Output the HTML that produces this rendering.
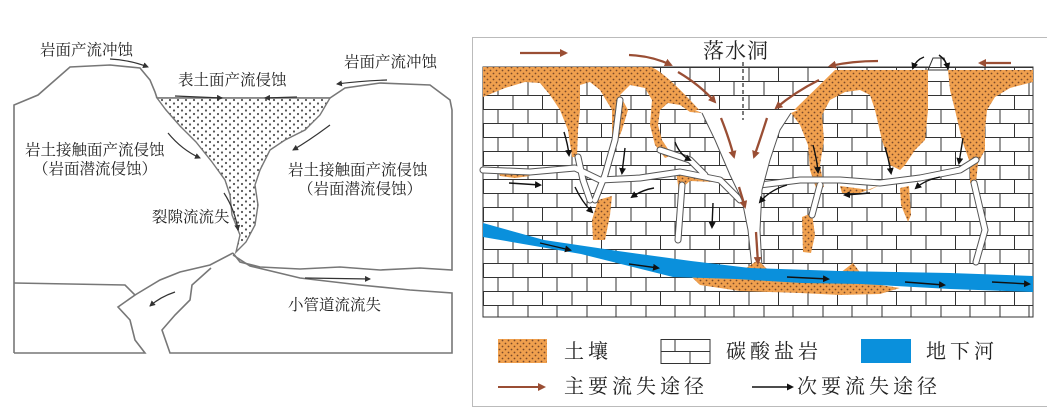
<!DOCTYPE html>
<html><head><meta charset="utf-8"><style>
html,body{margin:0;padding:0;background:#fff;width:1047px;height:416px;overflow:hidden}
svg{display:block}
.t{font-family:"Liberation Serif","Noto Serif CJK SC",serif;fill:#222}
</style></head><body>
<svg width="1047" height="416" viewBox="0 0 1047 416" xmlns="http://www.w3.org/2000/svg">
<defs>
<pattern id="brick" x="483" y="67" width="59" height="28" patternUnits="userSpaceOnUse">
<rect width="59" height="28" fill="#fff"/>
<path d="M0,0.5H59M0,14.5H59M0.5,0V14M30,0V14M15,14V28M45,14V28" stroke="#333" stroke-width="1" fill="none"/>
</pattern>
<pattern id="soil" width="6" height="6" patternUnits="userSpaceOnUse">
<rect width="6" height="6" fill="#f0a04e"/>
<circle cx="1.5" cy="1.5" r="0.9" fill="#7a4a2a"/><circle cx="4.5" cy="4.5" r="0.9" fill="#7a4a2a"/>
</pattern>
<pattern id="dots" width="8" height="7" patternUnits="userSpaceOnUse">
<rect width="8" height="7" fill="#fff"/>
<circle cx="2" cy="2" r="1.1" fill="#555"/><circle cx="6" cy="5.5" r="1.1" fill="#555"/>
</pattern>
<marker id="ab" markerWidth="8" markerHeight="8" refX="6" refY="4" orient="auto" markerUnits="userSpaceOnUse"><path d="M0,0L8,4L0,8Z" fill="#9a4e34"/></marker>
<marker id="ak" markerWidth="7" markerHeight="7" refX="5" refY="3.5" orient="auto" markerUnits="userSpaceOnUse"><path d="M0,0L7,3.5L0,7Z" fill="#111"/></marker>
<marker id="ag" markerWidth="6" markerHeight="6" refX="5" refY="3" orient="auto" markerUnits="userSpaceOnUse"><path d="M0,0L6,3L0,6Z" fill="#333"/></marker>
</defs>

<!-- LEFT PANEL -->
<g fill="none" stroke="#777" stroke-width="1.6">
<path d="M14,353V105L38,95L70,67L110,65L140,68L150,80L155,92L157,98"/>
<path d="M157,98H330L345,88L380,83L430,85L450,100L452,110V270L420,268L380,270L340,267L300,269L260,267L240,262L233,253"/>
<path d="M14,283L125,285L135,295L118,307L130,320L135,340L145,353H14"/>
<path d="M233,253L210,265L180,272L160,280L135,295"/>
<path d="M233,255L250,266L300,278L360,285L410,290L452,293V353H170L162,330L175,315L190,300L192,285L211,268"/>
</g>
<path d="M157,98H330L320,115L305,130L285,140L270,150L260,170L255,185L258,205L255,225L246,242L236,252L240,235L232,215L230,195L225,180L212,162L196,142L180,126L166,110Z" fill="url(#dots)" stroke="#777" stroke-width="1.4"/>
<g stroke="#333" stroke-width="1.2" fill="none">
<path d="M110,59Q130,60 148,67" marker-end="url(#ag)"/>
<path d="M175,96L222,98" marker-end="url(#ag)"/>
<path d="M297,97L265,98" marker-end="url(#ag)"/>
<path d="M387,80Q360,81 337,84" marker-end="url(#ag)"/>
<path d="M168,133Q182,150 200,158" marker-end="url(#ag)"/>
<path d="M330,125Q310,140 293,150" marker-end="url(#ag)"/>
<path d="M224,193Q235,210 238,230" marker-end="url(#ag)"/>
<path d="M305,278L370,279" marker-end="url(#ag)"/>
<path d="M175,292Q160,297 150,306" marker-end="url(#ag)"/>
</g>
<g class="t" font-size="15.5">
<text x="40" y="55">岩面产流冲蚀</text>
<text x="344" y="67">岩面产流冲蚀</text>
<text x="178" y="85">表土面产流侵蚀</text>
<text x="25" y="155">岩土接触面产流侵蚀</text>
<text x="33" y="174">（岩面潜流侵蚀）</text>
<text x="288" y="175">岩土接触面产流侵蚀</text>
<text x="298" y="194">（岩面潜流侵蚀）</text>
<text x="152" y="222">裂隙流流失</text>
<text x="288" y="310">小管道流流失</text>
</g>

<!-- RIGHT PANEL -->
<rect x="472.5" y="37.5" width="580" height="369" fill="none" stroke="#bbb" stroke-width="1"/>
<rect x="483" y="67" width="550" height="250" fill="url(#brick)"/>
<rect x="483" y="67" width="550" height="250" fill="none" stroke="#333" stroke-width="1"/>
<path d="M928,70L933,58H944L948,70Z" fill="url(#brick)" stroke="#333"/>
<path d="M483,67L651,67Q665,72 702,113L690,112L680,105L668,103L660,110L658,125L662,140L672,155L665,158L655,145L650,125L652,100L645,88L630,85L620,95L628,110L622,130L618,140L612,135L612,110L600,90L590,82L580,85L580,110L578,130L577,157L572,157L568,130L560,110L550,95L540,83L525,82L505,88L483,97Z" fill="url(#soil)"/>
<path d="M835,70L928,70L928,110L925,140L915,150L905,165L900,170L890,165L882,140L875,110L870,95L860,90L845,92L830,100L822,115L824,140L820,165L824,187L816,188L810,170L808,145L800,125L791,113Z" fill="url(#soil)"/>
<path d="M948,70L1033,70L1033,82L1010,88L995,97L987,110L985,130L985,150L978,163L976,183L970,183L970,163L962,140L955,110L950,90Z" fill="url(#soil)"/>
<path d="M498,171L520,173L530,176L515,178L500,176Z" fill="url(#soil)"/>
<path d="M598,200L612,196L610,215L605,240L593,240L592,220Z" fill="url(#soil)"/>
<path d="M676,172L700,175L726,179L715,182L690,181L684,186L683,200L679,200L678,185Z" fill="url(#soil)"/>
<path d="M802,217L812,213L815,235L811,253L803,252Z" fill="url(#soil)"/>
<path d="M900,188L909,186L911,215L908,222L901,205Z" fill="url(#soil)"/>
<path d="M840,186L870,190L880,185L860,193L842,193Z" fill="url(#soil)"/>
<g fill="none" stroke-linecap="round" stroke-linejoin="round">
<g stroke="#555" stroke-width="7">
<path d="M483,170L530,172L575,168L600,180L640,178L680,172L720,180L740,200"/>
<path d="M620,100L615,140L605,175L595,200"/>
<path d="M578,157L583,180L590,200"/>
<path d="M682,185L678,240"/>
<path d="M760,185L800,180L840,180L880,183L920,178L960,170L976,160"/>
<path d="M974,183L985,230L976,262"/>
<path d="M820,185L812,215"/>
<path d="M660,150L690,160L705,175"/>
</g>
<g stroke="#fff" stroke-width="5">
<path d="M483,170L530,172L575,168L600,180L640,178L680,172L720,180L740,200"/>
<path d="M620,100L615,140L605,175L595,200"/>
<path d="M578,157L583,180L590,200"/>
<path d="M682,185L678,240"/>
<path d="M760,185L800,180L840,180L880,183L920,178L960,170L976,160"/>
<path d="M974,183L985,230L976,262"/>
<path d="M820,185L812,215"/>
<path d="M660,150L690,160L705,175"/>
</g>
</g>
<path d="M695,110L702,113L715,140L730,175L742,200L748,230L752,268L762,268L760,230L762,190L770,160L780,130L791,113L798,110Z" fill="#fff" stroke="none"/>
<path d="M702,113L715,140L730,175L742,200L748,230L752,268M791,113L780,130L770,160L762,190L760,230L762,268" fill="none" stroke="#555" stroke-width="1"/>
<path d="M680,266L740,272L758,260L770,272L840,273L853,263L868,283L900,288L880,294L840,295L800,293L740,291L700,285Z" fill="url(#soil)"/>
<path d="M483,223L544,240L618,251L691,261L750,268L839,271L950,273L1033,276L1033,292L950,289L861,284L802,283L736,279L673,277L581,254L483,237Z" fill="#0a90dc"/>
<g stroke="#9a4e34" stroke-width="2.3" fill="none">
<path d="M520,53L566,53" marker-end="url(#ab)"/>
<path d="M629,55Q652,56 671,65" marker-end="url(#ab)"/>
<path d="M678,72Q700,85 715,102" marker-end="url(#ab)"/>
<path d="M721,118Q729,138 734,157" marker-end="url(#ab)"/>
<path d="M878,61Q852,61 830,66" marker-end="url(#ab)"/>
<path d="M819,80Q795,92 776,108" marker-end="url(#ab)"/>
<path d="M767,118Q760,140 754,157" marker-end="url(#ab)"/>
<path d="M1011,63L980,63" marker-end="url(#ab)"/>
<path d="M739,187L745,207" marker-end="url(#ab)"/>
<path d="M756,232L758,263" marker-end="url(#ab)"/>
</g>
<g stroke="#111" stroke-width="1.4" fill="none">
<path d="M924,57Q916,60 913,68" marker-end="url(#ak)"/>
<path d="M939,55Q946,60 948,68" marker-end="url(#ak)"/>
<path d="M564,132Q568,145 569,155" marker-end="url(#ak)"/>
<path d="M509,183L540,185" marker-end="url(#ak)"/>
<path d="M575,187Q582,202 592,212" marker-end="url(#ak)"/>
<path d="M625,148L622,173" marker-end="url(#ak)"/>
<path d="M654,188Q642,190 632,197" marker-end="url(#ak)"/>
<path d="M675,142Q680,155 690,160" marker-end="url(#ak)"/>
<path d="M713,203L712,227" marker-end="url(#ak)"/>
<path d="M787,185Q770,190 760,202" marker-end="url(#ak)"/>
<path d="M813,145Q817,160 818,172" marker-end="url(#ak)"/>
<path d="M885,147Q889,160 891,173" marker-end="url(#ak)"/>
<path d="M870,193L845,195" marker-end="url(#ak)"/>
<path d="M940,177Q925,180 916,188" marker-end="url(#ak)"/>
<path d="M963,138L959,163" marker-end="url(#ak)"/>
<path d="M540,243L570,250" marker-end="url(#ak)"/>
<path d="M629,264L658,268" marker-end="url(#ak)"/>
<path d="M787,277L828,279" marker-end="url(#ak)"/>
<path d="M905,282L944,285" marker-end="url(#ak)"/>
<path d="M992,282L1029,284" marker-end="url(#ak)"/>
</g>
<path d="M743,62V120" stroke="#222" stroke-width="1.2" stroke-dasharray="4,3"/>
<text x="703" y="58" class="t" font-size="21" letter-spacing="1">落水洞</text>

<rect x="498" y="339" width="49" height="24" fill="url(#soil)"/>
<rect x="661" y="339.5" width="49" height="24" fill="#fff" stroke="#333"/>
<path d="M661,351.5H710M675,339.5V351.5M690,351.5V363.5" stroke="#333" fill="none"/>
<rect x="861" y="339" width="50" height="24" fill="#0a90dc"/>
<g class="t" font-size="20" letter-spacing="4">
<text x="564" y="358">土壤</text>
<text x="726" y="358">碳酸盐岩</text>
<text x="926" y="358">地下河</text>
<text x="564" y="393">主要流失途径</text>
<text x="797" y="393">次要流失途径</text>
</g>
<path d="M498,387H544" stroke="#9a4e34" stroke-width="2" marker-end="url(#ab)"/>
<path d="M752,387H792" stroke="#111" stroke-width="1.5" marker-end="url(#ak)"/>
</svg>
</body></html>
